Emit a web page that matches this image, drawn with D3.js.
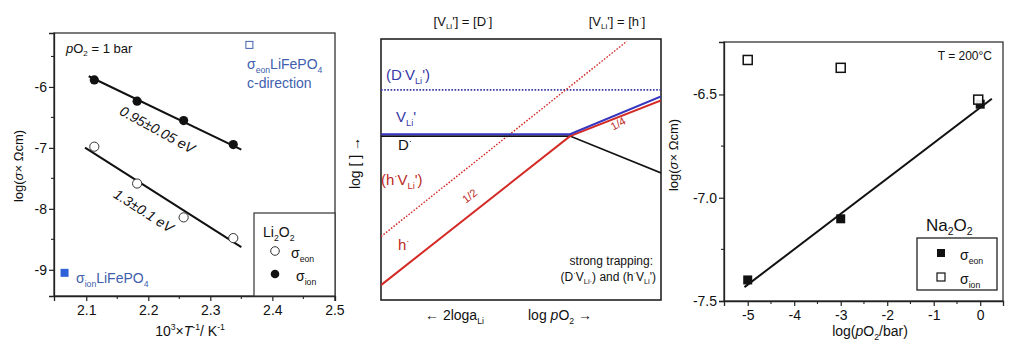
<!DOCTYPE html>
<html><head><meta charset="utf-8">
<script src="https://cdn.jsdelivr.net/npm/d3@7"></script>
<style>body{margin:0;background:#fff}svg{display:block}text{font-family:"Liberation Sans",Arial,sans-serif}</style>
</head><body>
<svg id="c" width="1019" height="344"></svg>
<script>
// ---------- data: left panel (Li2O2, Arrhenius) ----------
const invT = [2.113, 2.182, 2.257, 2.337];
const sigIonLi2O2 = [-5.885, -6.234, -6.552, -6.946];
const sigEonLi2O2 = [-6.98, -7.585, -8.14, -8.48];
const ionFitX = [2.104, 2.350], ionFitY = [-5.825, -7.028];
const eonFitX = [2.098, 2.350], eonFitY = [-6.995, -8.628];
const lfpEon = [2.363, -5.31];   // sigma_eon LiFePO4 c-direction
const lfpIon = [2.065, -9.05];   // sigma_ion LiFePO4
const leftXTicks = [2.1, 2.2, 2.3, 2.4, 2.5];
const leftYTicks = [-9, -8, -7, -6];
// ---------- data: middle panel (Brouwer diagram, arbitrary units) ----------
const brX = [0, 6.75, 10];
const brVLi = [6.35, 6.35, 7.8];
const brD = [6.28, 6.28, 4.87];
const brH = [0.57, 6.28, 7.65];
const brHVx = [0, 8.78], brHV = [2.43, 9.91];
const brDVx = [0, 10], brDV = [8.05, 8.05];
// ---------- data: right panel (Na2O2) ----------
const logPO2 = [-5, -3, 0];
const sigEonNa = [-7.398, -7.102, -6.547];
const sigIonNa = [-6.333, -6.371, -6.525];
const naFitX = [-5.07, 0.25], naFitY = [-7.433, -6.521];
const rightXTicks = [-5, -4, -3, -2, -1, 0];
const rightYTicks = [-7.5, -7.0, -6.5];

const svg = d3.select('#c');
const FONT = 14;
const BLUE_T = '#4060ad', BLUE_F = '#2f62d9', RED = '#d42a26', RED_T = '#bd2a25', NAVY = '#3838a8';

function rich(g, x, y, parts, o = {}) {
  const fs = o.size || FONT;
  const t = g.append('text').attr('x', x).attr('y', y).attr('font-size', fs)
    .attr('fill', o.fill || '#111').attr('text-anchor', o.anchor || 'start');
  if (o.transform) t.attr('transform', o.transform);
  let shift = 0;
  parts.forEach(p => {
    const [s, m] = Array.isArray(p) ? p : [p, ''];
    const target = m === 'sub' ? fs * 0.25 : m === 'sup' ? -fs * 0.4 : 0;
    const sp = t.append('tspan').text(s).attr('dy', target - shift);
    shift = target;
    if (m === 'sub' || m === 'sup') sp.attr('font-size', fs * 0.62);
    if (m === 'i') sp.attr('font-style', 'italic');
  });
  return t;
}
function styleAxis(a) {
  a.select('.domain').attr('stroke', '#222').attr('stroke-width', 1.3);
  a.selectAll('.tick line').attr('stroke', '#222').attr('stroke-width', 1.2);
  a.selectAll('.tick text').attr('font-size', FONT).attr('fill', '#111')
    .attr('font-family', '"Liberation Sans",Arial,sans-serif');
}
function minor(g, scale, vals, orient, x0, y0) {
  vals.forEach(v => {
    if (orient === 'left') g.append('line').attr('x1', x0 - 3).attr('x2', x0).attr('y1', scale(v)).attr('y2', scale(v)).attr('stroke', '#222').attr('stroke-width', 1.1);
    else g.append('line').attr('y1', y0).attr('y2', y0 + 3).attr('x1', scale(v)).attr('x2', scale(v)).attr('stroke', '#222').attr('stroke-width', 1.1);
  });
}
const line = (xs, ys, x, y) => d3.line()(xs.map((v, i) => [x(v), y(ys[i])]));

// ================= LEFT PANEL =================
{
  const L = 54, R = 335, T = 33, B = 296;
  const x = d3.scaleLinear().domain([2.048, 2.501]).range([L, R]);
  const y = d3.scaleLinear().domain([-9.43, -5.115]).range([B, T]);
  const g = svg.append('g');
  g.append('rect').attr('x', L).attr('y', T).attr('width', R - L).attr('height', B - T)
    .attr('fill', 'none').attr('stroke', '#333').attr('stroke-width', 1.3);
  const ax = g.append('g').attr('transform', `translate(0,${B})`)
    .call(d3.axisBottom(x).tickValues(leftXTicks).tickFormat(d => d.toFixed(1)).tickSize(5).tickPadding(4));
  styleAxis(ax);
  const ay = g.append('g').attr('transform', `translate(${L},0)`)
    .call(d3.axisLeft(y).tickValues(leftYTicks).tickFormat(d => String(d)).tickSize(5).tickPadding(2));
  styleAxis(ay);
  minor(g, x, [2.15, 2.25, 2.35, 2.45], 'bottom', 0, B);
  minor(g, y, [-9, -8, -7, -6].map(v => v + 0.5), 'left', L, 0);

  g.append('path').attr('d', line(ionFitX, ionFitY, x, y)).attr('stroke', '#111').attr('stroke-width', 2).attr('fill', 'none');
  g.append('path').attr('d', line(eonFitX, eonFitY, x, y)).attr('stroke', '#111').attr('stroke-width', 2).attr('fill', 'none');
  g.selectAll('.ion').data(invT).join('circle').attr('cx', d => x(d)).attr('cy', (d, i) => y(sigIonLi2O2[i]))
    .attr('r', 4.6).attr('fill', '#111');
  g.selectAll('.eon').data(invT).join('circle').attr('cx', d => x(d)).attr('cy', (d, i) => y(sigEonLi2O2[i]))
    .attr('r', 4.6).attr('fill', '#fff').attr('stroke', '#333').attr('stroke-width', 1);

  rich(g, 66, 53, [['p', 'i'], 'O', ['2', 'sub'], ' = 1 bar'], { size: 13 });

  g.append('rect').attr('x', x(lfpEon[0]) - 3.5).attr('y', y(lfpEon[1]) - 3.5).attr('width', 7).attr('height', 7)
    .attr('fill', 'none').attr('stroke', BLUE_T).attr('stroke-width', 1);
  rich(g, 247, 69, ['σ', ['eon', 'sub'], 'LiFePO', ['4', 'sub']], { size: 14, fill: BLUE_T });
  rich(g, 247, 88, ['c-direction'], { size: 14, fill: BLUE_T });

  g.append('rect').attr('x', x(lfpIon[0]) - 4).attr('y', y(lfpIon[1]) - 4).attr('width', 8).attr('height', 8).attr('fill', BLUE_F);
  rich(g, 76, 283, ['σ', ['ion', 'sub'], 'LiFePO', ['4', 'sub']], { size: 14, fill: BLUE_T });

  const a1 = Math.atan2(y(ionFitY[1]) - y(ionFitY[0]), x(ionFitX[1]) - x(ionFitX[0])) * 180 / Math.PI;
  const a2 = Math.atan2(y(eonFitY[1]) - y(eonFitY[0]), x(eonFitX[1]) - x(eonFitX[0])) * 180 / Math.PI;
  rich(g, 0, 0, ['0.95±0.05  eV'], { size: 14, anchor: 'middle', transform: `translate(155,134) rotate(${a1 + 3})` }).attr('font-style', 'italic');
  rich(g, 0, 0, ['1.3±0.1  eV'], { size: 14, anchor: 'middle', transform: `translate(141,215) rotate(${a2})` }).attr('font-style', 'italic');

  // legend box
  g.append('rect').attr('x', 254).attr('y', 213).attr('width', R - 254).attr('height', B - 213)
    .attr('fill', '#fff').attr('stroke', '#333').attr('stroke-width', 1.2);
  rich(g, 263, 237, ['Li', ['2', 'sub'], 'O', ['2', 'sub']], { size: 14 });
  g.append('circle').attr('cx', 275).attr('cy', 251).attr('r', 4.3).attr('fill', '#fff').attr('stroke', '#333');
  g.append('circle').attr('cx', 275).attr('cy', 274).attr('r', 4.3).attr('fill', '#111');
  rich(g, 291, 258, ['σ', ['eon', 'sub']], { size: 14 });
  rich(g, 296, 281, ['σ', ['ion', 'sub']], { size: 14 });

  rich(g, 0, 0, ['log(', ['σ', 'i'], '× Ωcm)'], { size: 13, anchor: 'middle', transform: 'translate(23,166) rotate(-90)' });
  rich(g, 190, 336, ['10', ['3', 'sup'], '×', ['T', 'i'], ['-1', 'sup'], '/ K', ['-1', 'sup']], { size: 14, anchor: 'middle' });
}

// ================= MIDDLE PANEL =================
{
  const L = 381, R = 661, T = 39, B = 300;
  const x = d3.scaleLinear().domain([0, 10]).range([L, R]);
  const y = d3.scaleLinear().domain([0, 10]).range([B, T]);
  const g = svg.append('g');
  g.append('rect').attr('x', L).attr('y', T).attr('width', R - L).attr('height', B - T)
    .attr('fill', 'none').attr('stroke', '#222').attr('stroke-width', 1.6);
  g.append('clipPath').attr('id', 'mc').append('rect').attr('x', L).attr('y', T).attr('width', R - L).attr('height', B - T);
  const p = g.append('g').attr('clip-path', 'url(#mc)');
  p.append('path').attr('d', line(brDVx, brDV, x, y)).attr('stroke', NAVY).attr('stroke-width', 1.6).attr('stroke-dasharray', '1.6,1.6').attr('fill', 'none');
  p.append('path').attr('d', line(brHVx, brHV, x, y)).attr('stroke', RED).attr('stroke-width', 1.4).attr('stroke-dasharray', '1.6,1.6').attr('fill', 'none');
  p.append('path').attr('d', line(brX, brD, x, y)).attr('stroke', '#111').attr('stroke-width', 1.6).attr('fill', 'none');
  p.append('path').attr('d', line(brX, brH, x, y)).attr('stroke', RED).attr('stroke-width', 2).attr('fill', 'none');
  p.append('path').attr('d', line(brX, brVLi, x, y)).attr('stroke', '#3535c0').attr('stroke-width', 2.2).attr('fill', 'none');

  rich(g, 386, 80, ['(D', ['·', 'sup'], 'V', ['Li', 'sub'], '\')'], { size: 15, fill: NAVY });
  rich(g, 396, 122, ['V', ['Li', 'sub'], '\''], { size: 15, fill: NAVY });
  rich(g, 398, 150, ['D', ['·', 'sup']], { size: 15, fill: '#111' });
  rich(g, 381, 185, ['(h', ['·', 'sup'], 'V', ['Li', 'sub'], '\')'], { size: 15, fill: RED_T });
  rich(g, 398, 250, ['h', ['·', 'sup']], { size: 15, fill: RED_T });
  const aH = Math.atan2(y(brH[1]) - y(brH[0]), x(brX[1]) - x(brX[0])) * 180 / Math.PI;
  const aQ = Math.atan2(y(brH[2]) - y(brH[1]), x(brX[2]) - x(brX[1])) * 180 / Math.PI;
  rich(g, 0, 0, ['1/2'], { size: 11, fill: RED_T, anchor: 'middle', transform: `translate(472,199) rotate(${aH})` });
  rich(g, 0, 0, ['1/4'], { size: 11, fill: RED_T, anchor: 'middle', transform: `translate(620,127) rotate(${aQ - 8})` });

  rich(g, 463, 26, ['[V', ['Li', 'sub'], '\'] = [D', ['·', 'sup'], ']'], { size: 13, anchor: 'middle' });
  rich(g, 617, 26, ['[V', ['Li', 'sub'], '\'] = [h', ['·', 'sup'], ']'], { size: 13, anchor: 'middle' });
  rich(g, 425, 320, ['← 2loga', ['Li', 'sub']], { size: 14 });
  rich(g, 528, 320, ['log ', ['p', 'i'], 'O', ['2', 'sub'], ' →'], { size: 14 });
  rich(g, 0, 0, ['log [ ] →'], { size: 14, anchor: 'middle', transform: 'translate(360,163) rotate(-90)' });
  rich(g, 653, 265, ['strong trapping:'], { size: 12, anchor: 'end' });
  rich(g, 656, 281, ['(D', ['·', 'sup'], 'V', ['Li·', 'sub'], ') and (h', ['·', 'sup'], 'V', ['Li', 'sub'], '\')'], { size: 12, anchor: 'end' });
}

// ================= RIGHT PANEL =================
{
  const L = 724, R = 1003, T = 42, B = 301;
  const x = d3.scaleLinear().domain([-5.51, 0.49]).range([L, R]);
  const y = d3.scaleLinear().domain([-7.5, -6.246]).range([B, T]);
  const g = svg.append('g');
  g.append('rect').attr('x', L).attr('y', T).attr('width', R - L).attr('height', B - T)
    .attr('fill', 'none').attr('stroke', '#333').attr('stroke-width', 1.3);
  const ax = g.append('g').attr('transform', `translate(0,${B})`)
    .call(d3.axisBottom(x).tickValues(rightXTicks).tickFormat(d => String(d)).tickSize(5).tickPadding(4));
  styleAxis(ax);
  const ay = g.append('g').attr('transform', `translate(${L},0)`)
    .call(d3.axisLeft(y).tickValues(rightYTicks).tickFormat(d => d.toFixed(1)).tickSize(5).tickPadding(2));
  styleAxis(ay);
  minor(g, x, [-4.5, -3.5, -2.5, -1.5, -0.5], 'bottom', 0, B);
  minor(g, y, [-7.25, -6.75], 'left', L, 0);

  g.append('path').attr('d', line(naFitX, naFitY, x, y)).attr('stroke', '#111').attr('stroke-width', 2).attr('fill', 'none');
  const s = 9;
  g.selectAll('.fe').data(logPO2).join('rect').attr('x', d => x(d) - s / 2).attr('y', (d, i) => y(sigEonNa[i]) - s / 2)
    .attr('width', s).attr('height', s).attr('fill', '#111');
  g.selectAll('.oi').data(logPO2).join('rect').attr('x', d => x(d) - s / 2 - (d === 0 ? 2 : 0)).attr('y', (d, i) => y(sigIonNa[i]) - s / 2)
    .attr('width', s).attr('height', s).attr('fill', '#fff').attr('fill-opacity', 0.9).attr('stroke', '#111').attr('stroke-width', 1.5);

  rich(g, 992, 60, ['T = 200°C'], { size: 12, anchor: 'end' });
  rich(g, 926, 231, ['Na', ['2', 'sub'], 'O', ['2', 'sub']], { size: 17 });
  g.append('rect').attr('x', 917).attr('y', 238).attr('width', 80).attr('height', 52)
    .attr('fill', '#fff').attr('stroke', '#222').attr('stroke-width', 1.3);
  g.append('rect').attr('x', 937).attr('y', 249).attr('width', 8).attr('height', 8).attr('fill', '#111');
  g.append('rect').attr('x', 937).attr('y', 273).attr('width', 8).attr('height', 8).attr('fill', '#fff').attr('stroke', '#111').attr('stroke-width', 1.2);
  rich(g, 960, 260, ['σ', ['eon', 'sub']], { size: 14 });
  rich(g, 960, 284, ['σ', ['ion', 'sub']], { size: 14 });

  rich(g, 0, 0, ['log(', ['σ', 'i'], '× Ωcm)'], { size: 13, anchor: 'middle', transform: 'translate(678,155) rotate(-90)' });
  rich(g, 870, 336, ['log(', ['p', 'i'], 'O', ['2', 'sub'], '/bar)'], { size: 14, anchor: 'middle' });
}
</script>
</body></html>
